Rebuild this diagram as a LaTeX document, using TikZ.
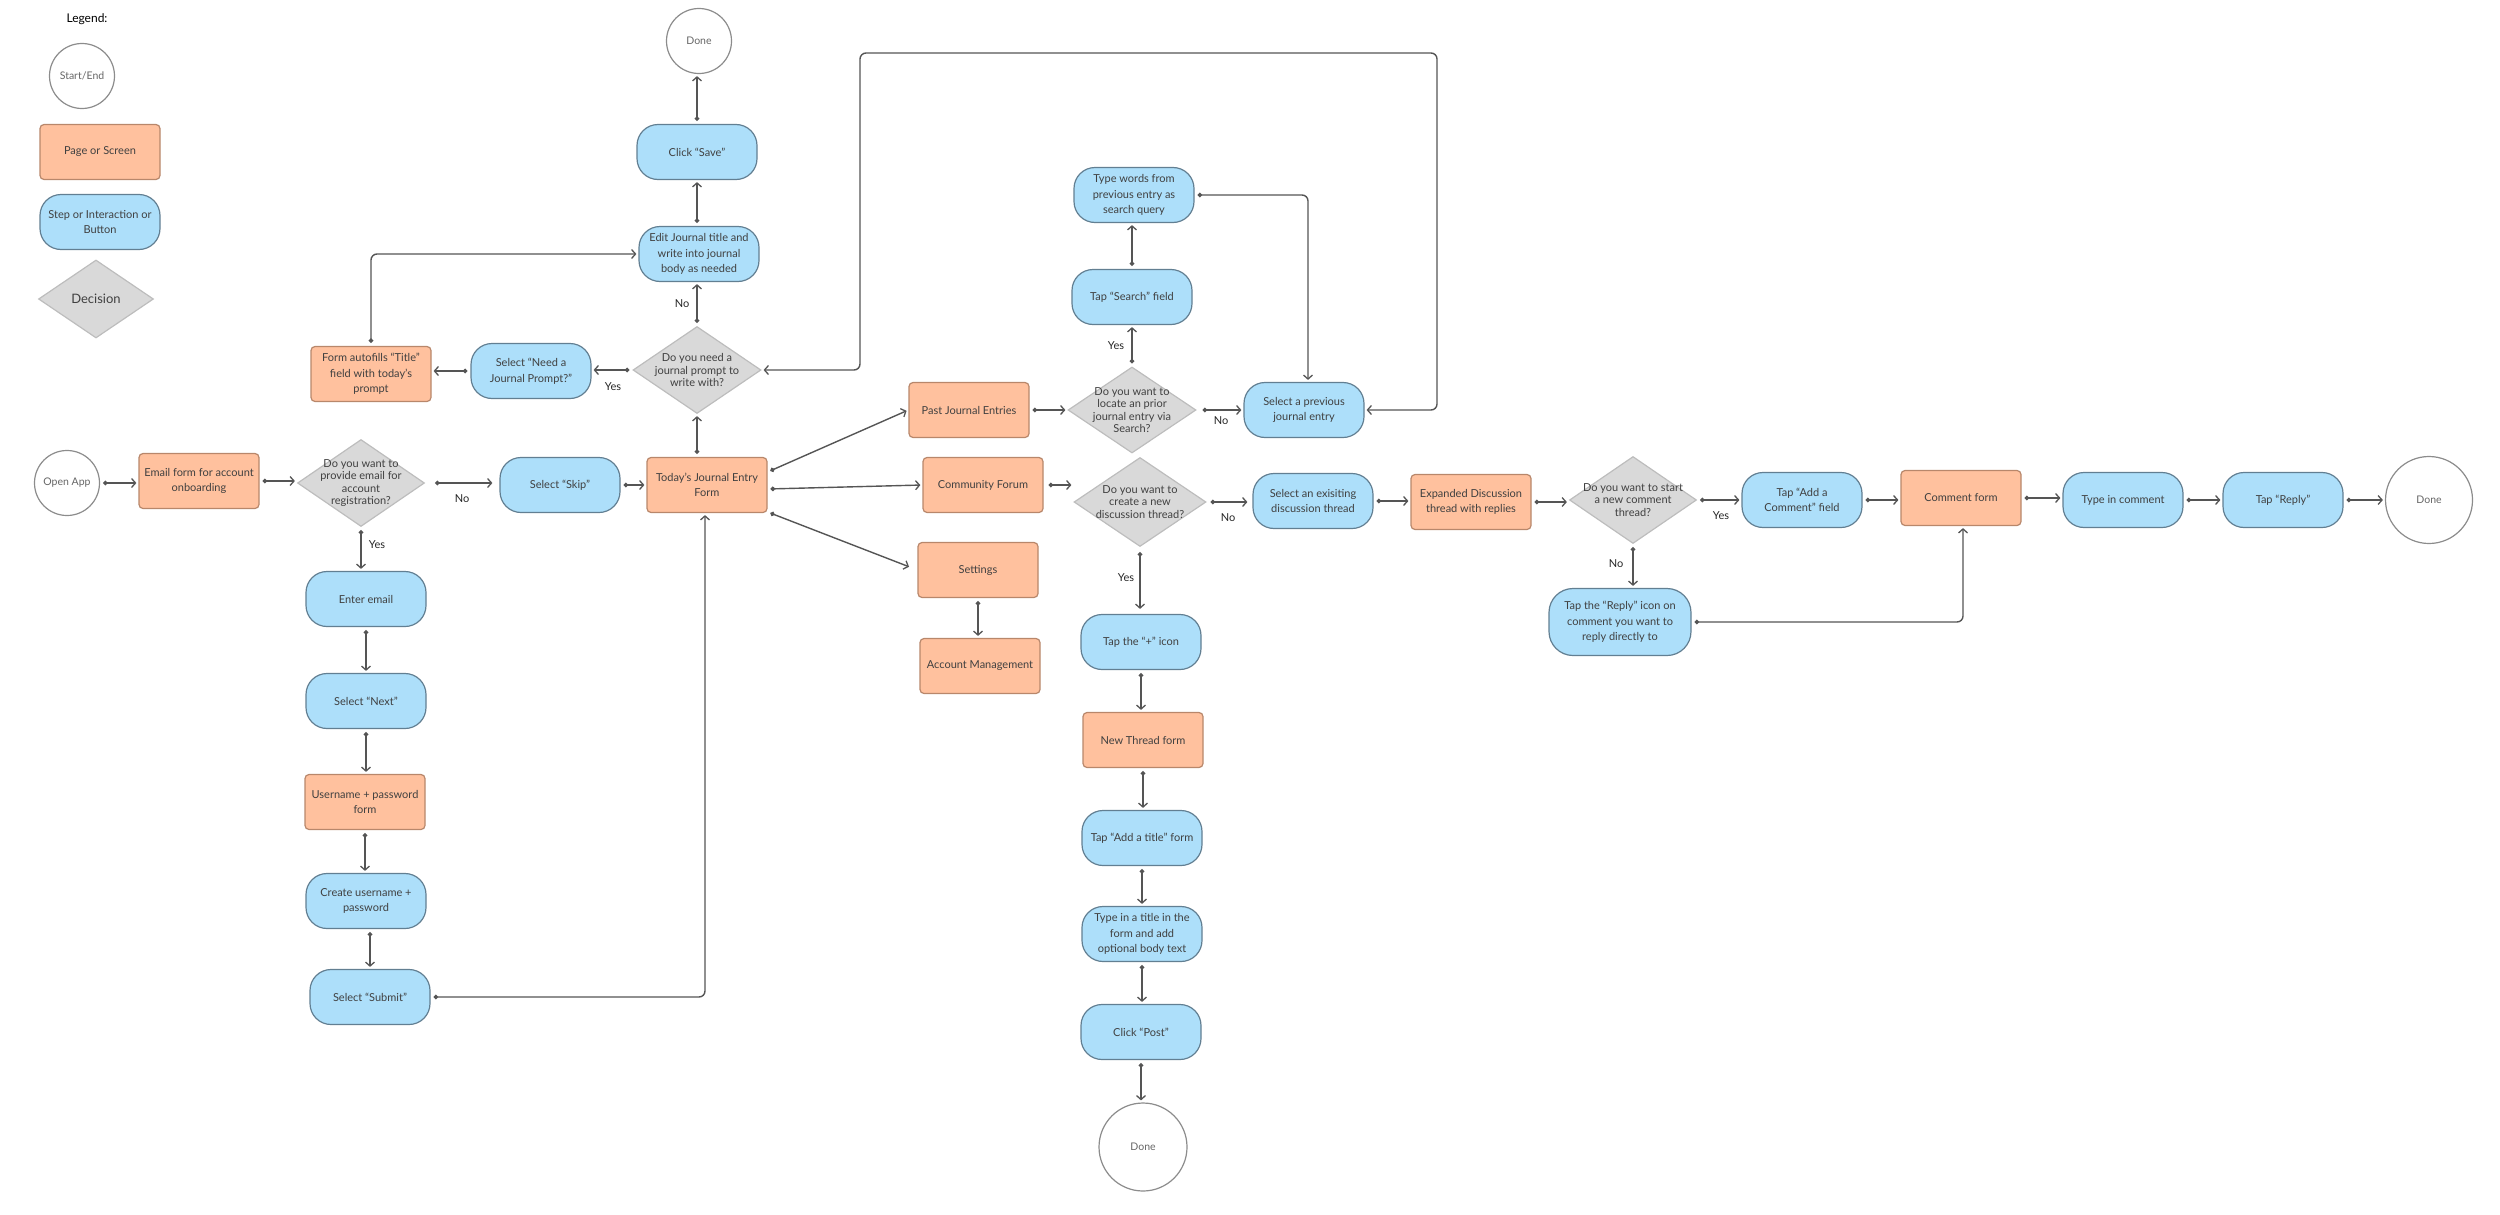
\documentclass[tikz,border=0pt]{standalone}
\usepackage{fontspec}
\setmainfont{Lato}
\usetikzlibrary{arrows.meta,shapes.geometric}
\definecolor{orfill}{HTML}{FFC19E}
\definecolor{orline}{HTML}{B8876B}
\definecolor{blfill}{HTML}{ADDFFA}
\definecolor{blline}{HTML}{627F92}
\definecolor{dfill}{HTML}{D9D9D9}
\definecolor{dline}{HTML}{BDBDBD}
\definecolor{cline}{HTML}{8C8C8C}
\definecolor{txt}{HTML}{404040}
\definecolor{ctxt}{HTML}{666666}
\definecolor{conncol}{HTML}{555555}
\newcommand\NdFont{\fontsize{11}{15.6}\selectfont}
\newcommand\DiFont{\fontsize{11}{12.6}\selectfont}
\newcommand\CiFont{\fontsize{10.5}{12}\selectfont}
\newcommand\LbFont{\fontsize{11}{13}\selectfont}
\begin{document}
\begin{tikzpicture}[x=1pt,y=-1pt,
  page/.style={rectangle, rounded corners=4pt, draw=orline, fill=orfill, line width=1.2pt,
    minimum width=120pt, minimum height=55pt, align=center, text=txt, font=\NdFont, inner sep=2pt},
  stepbox/.style={rectangle, rounded corners=21pt, draw=blline, fill=blfill, line width=1.2pt,
    minimum width=120pt, minimum height=55pt, align=center, text=txt, font=\NdFont, inner sep=2pt},
  circ/.style={circle, draw=cline, fill=white, line width=1.2pt, minimum size=65pt,
    inner sep=0pt, text=ctxt, font=\CiFont},
  dia/.style={diamond, draw=dline, fill=dfill, line width=1.2pt, inner sep=0pt,
    minimum width=128pt, minimum height=87pt},
  dtext/.style={align=center, text=txt, font=\DiFont, inner sep=0pt},
  lbl/.style={text=black!85, font=\LbFont, inner sep=0pt},
  conn/.style={draw=conncol, line width=1.4pt, rounded corners=6pt,
    {Circle[length=4.5pt]}-{Straight Barb[length=4pt,width=9pt,line width=1.3pt]},
    shorten <=3pt, shorten >=2pt},
  conn2/.style={draw=conncol, line width=1.4pt, rounded corners=6pt,
    {Straight Barb[length=4pt,width=9pt,line width=1.3pt]}-{Straight Barb[length=4pt,width=9pt,line width=1.3pt]},
    shorten <=2pt, shorten >=2pt}
]
\useasboundingbox (0,0) rectangle (2500,1215);

% ---------- Legend ----------
\node[text=black, font=\fontsize{12}{14}\selectfont, inner sep=0pt] (legend) at (87,19) {Legend:};
\node[circ] (lgcirc) at (82,76) {Start/End};
\node[page] (lgpage) at (100,152) {Page or Screen};
\node[stepbox] (lgstep) at (100,222) {Step or Interaction or\\Button};
\node[dia, minimum width=115pt, minimum height=78pt,
  label={[dtext, font=\fontsize{13}{15}\selectfont]center:Decision}] (lgdec) at (96,299) {};

% ---------- Onboarding ----------
\node[circ] (openapp) at (67,483) {Open App};
\node[page] (email) at (199,481) {Email form for account\\onboarding};
\node[dia, minimum width=127pt, minimum height=87pt,
  label={[dtext]center:Do you want to\\provide email for\\account\\registration?}] (d1) at (361,483) {};
\node[stepbox] (skip) at (560,485) {Select “Skip”};
\node[page] (today) at (707,485) {Today’s Journal Entry\\Form};
\node[stepbox] (enteremail) at (366,599) {Enter email};
\node[stepbox] (next) at (366,701) {Select “Next”};
\node[page] (userform) at (365,802) {Username + password\\form};
\node[stepbox] (create) at (366,901) {Create username +\\password};
\node[stepbox] (submit) at (370,997) {Select “Submit”};

% ---------- Journal ----------
\node[dia,
  label={[dtext]center:Do you need a\\journal prompt to\\write with?}] (d2) at (697,370) {};
\node[stepbox] (needprompt) at (531,371) {Select “Need a\\Journal Prompt?”};
\node[page] (autofill) at (371,374) {Form autofills “Title”\\field with today’s\\prompt};
\node[stepbox] (edit) at (699,254) {Edit Journal title and\\write into journal\\body as needed};
\node[stepbox] (save) at (697,152) {Click “Save”};
\node[circ] (done1) at (699,41) {Done};

% ---------- Menu pages ----------
\node[page] (past) at (969,410) {Past Journal Entries};
\node[page] (forum) at (983,485) {Community Forum};
\node[page] (settings) at (978,570) {Settings};
\node[page] (account) at (980,666) {Account Management};

% ---------- Search ----------
\node[dia, minimum height=86pt,
  label={[dtext]center:Do you want to\\locate an prior\\journal entry via\\Search?}] (d3) at (1132,410) {};
\node[stepbox] (tapsearch) at (1132,297) {Tap “Search” field};
\node[stepbox] (typewords) at (1134,195) {Type words from\\previous entry as\\search query};
\node[stepbox] (selprev) at (1304,410) {Select a previous\\journal entry};

% ---------- Forum ----------
\node[dia, minimum width=132pt, minimum height=89pt,
  label={[dtext]center:Do you want to\\create a new\\discussion thread?}] (d4) at (1140,502) {};
\node[stepbox] (selexist) at (1313,501) {Select an exisiting\\discussion thread};
\node[stepbox] (plus) at (1141,642) {Tap the “+” icon};
\node[page] (newthread) at (1143,740) {New Thread form};
\node[stepbox] (addtitle) at (1142,838) {Tap “Add a title” form};
\node[stepbox] (typetitle) at (1142,934) {Type in a title in the\\form and add\\optional body text};
\node[stepbox] (post) at (1141,1032) {Click “Post”};
\node[circ, minimum size=88pt] (done2) at (1143,1147) {Done};

\node[page] (expanded) at (1471,502) {Expanded Discussion\\thread with replies};
\node[dia, minimum width=127pt, minimum height=87pt,
  label={[dtext]center:Do you want to start\\a new comment\\thread?}] (d5) at (1633,500) {};
\node[stepbox] (addcomment) at (1802,500) {Tap “Add a\\Comment” field};
\node[stepbox, minimum width=142pt, minimum height=67pt, rounded corners=24pt] (replyicon) at (1620,622) {Tap the “Reply” icon on\\comment you want to\\reply directly to};
\node[page] (commentform) at (1961,498) {Comment form};
\node[stepbox] (typecomment) at (2123,500) {Type in comment};
\node[stepbox] (tapreply) at (2283,500) {Tap “Reply”};
\node[circ, minimum size=87pt] (done3) at (2429,500) {Done};

% ---------- Labels ----------
\node[lbl] (lno1) at (462,499) {No};
\node[lbl] (lyes1) at (377,545) {Yes};
\node[lbl] (lno2) at (682,304) {No};
\node[lbl] (lyes2) at (613,387) {Yes};
\node[lbl] (lyes3) at (1116,346) {Yes};
\node[lbl] (lno3) at (1221,421) {No};
\node[lbl] (lno4) at (1228,518) {No};
\node[lbl] (lyes4) at (1126,578) {Yes};
\node[lbl] (lyes5) at (1721,516) {Yes};
\node[lbl] (lno5) at (1616,564) {No};

% ---------- Connectors ----------
\draw[conn] (openapp.east) -- (openapp.east -| email.west);
\draw[conn] (email.east) -- (email.east -| d1.west);
\draw[conn, shorten <=10pt, shorten >=7pt] (d1.east) -- (d1.east -| skip.west);
\draw[conn] (d1.south) -- (d1.south |- enteremail.north);
\draw[conn] (enteremail.south) -- (enteremail.south |- next.north);
\draw[conn] (next.south) -- (next.south |- userform.north);
\draw[conn] (userform.south) -- (userform.south |- create.north);
\draw[conn] (create.south -| submit.north) -- (submit.north);
\draw[conn] (submit.east) -| ([xshift=-2pt]today.south);
\draw[conn] (skip.east) -- (skip.east -| today.west);
\draw[conn] (d2.south |- today.north) -- (d2.south);
\draw[conn] (d2.north) -- (d2.north |- edit.south);
\draw[conn] (edit.north -| save.south) -- (save.south);
\draw[conn] (save.north) -- (save.north |- done1.south);
\draw[conn] (d2.west) -- (d2.west -| needprompt.east);
\draw[conn] (needprompt.west) -- (needprompt.west -| autofill.east);
\draw[conn] (autofill.north) |- (edit.west);

\draw[conn] ([yshift=13pt]today.east) -- (past.west);
\draw[conn] ([yshift=-4pt]today.east) -- (forum.west);
\draw[conn, shorten >=9pt] ([yshift=-27pt]today.east) -- (settings.west);
\draw[conn] (settings.south) -- (settings.south |- account.north);

\draw[conn] (past.east) -- (past.east -| d3.west);
\draw[conn] (d3.north) -- (d3.north |- tapsearch.south);
\draw[conn] (tapsearch.north) -- (tapsearch.north |- typewords.south);
\draw[conn, shorten <=6pt] (d3.east) -- (d3.east -| selprev.west);
\draw[conn] (typewords.east) -| ([xshift=4pt]selprev.north);
\coordinate (loopA) at (1437,53);
\coordinate (loopB) at (860,53);
\draw[conn2] (selprev.east) -| (loopA) -- (loopB) |- (d2.east);

\draw[conn, shorten <=5pt] (forum.east) -- (forum.east -| d4.west);
\draw[conn, shorten <=4pt, shorten >=5pt] (d4.east) -- (d4.east -| selexist.west);
\draw[conn, shorten <=5pt, shorten >=5pt] (d4.south) -- (d4.south |- plus.north);
\draw[conn] (plus.south) -- (plus.south |- newthread.north);
\draw[conn] (newthread.south) -- (newthread.south |- addtitle.north);
\draw[conn] (addtitle.south) -- (addtitle.south |- typetitle.north);
\draw[conn] (typetitle.south) -- (typetitle.south |- post.north);
\draw[conn] (post.south) -- (post.south |- done2.north);

\draw[conn] (selexist.east) -- (selexist.east -| expanded.west);
\draw[conn] (expanded.east) -- (expanded.east -| d5.west);
\draw[conn] (d5.east) -- (d5.east -| addcomment.west);
\draw[conn] (d5.south) -- (d5.south |- replyicon.north);
\draw[conn] (replyicon.east) -| ([xshift=2pt]commentform.south);
\draw[conn] (addcomment.east) -- (addcomment.east -| commentform.west);
\draw[conn] (commentform.east) -- (commentform.east -| typecomment.west);
\draw[conn] (typecomment.east) -- (typecomment.east -| tapreply.west);
\draw[conn] (tapreply.east) -- (tapreply.east -| done3.west);
\end{tikzpicture}
\end{document}
